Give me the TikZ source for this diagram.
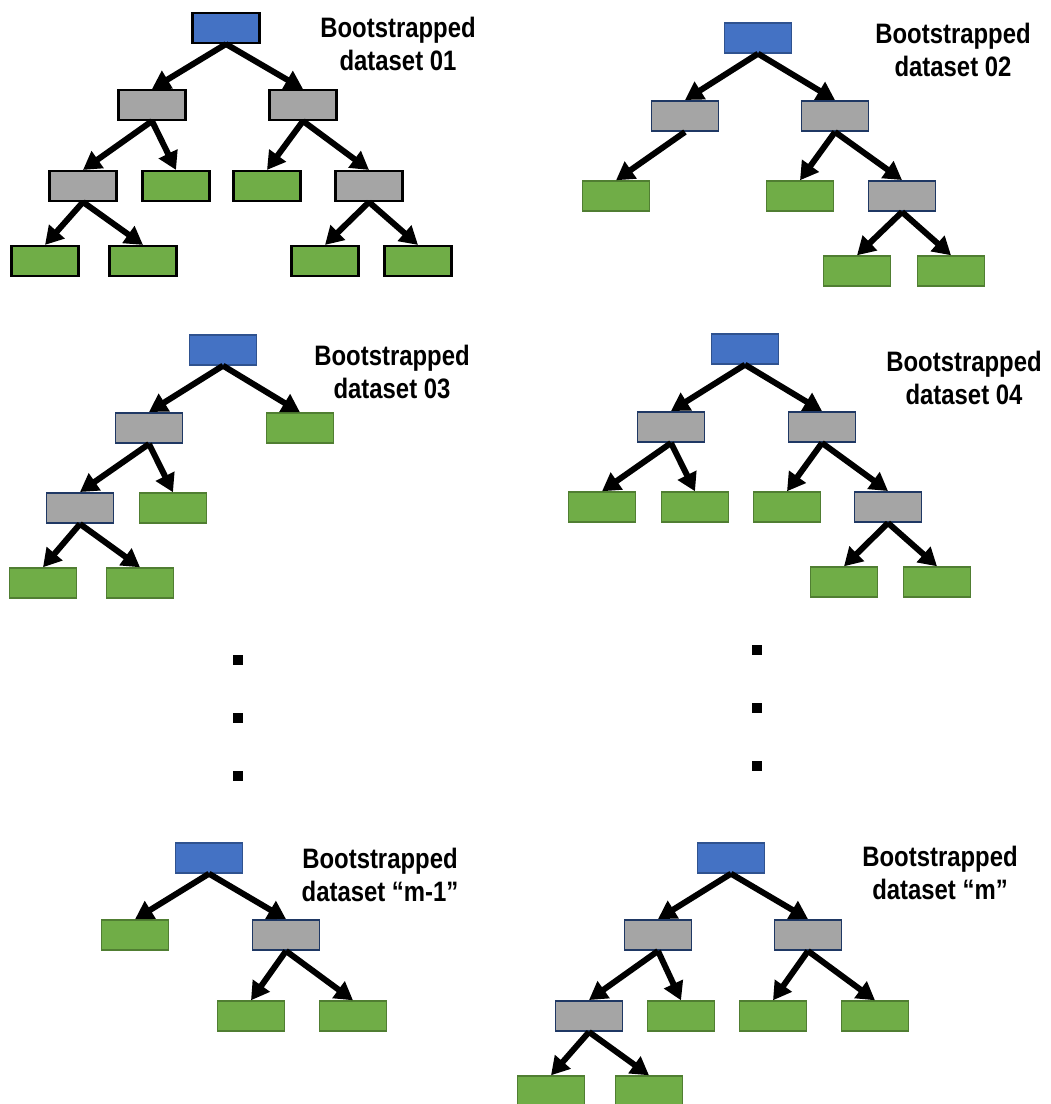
\documentclass[tikz,border=0pt]{standalone}
\usepackage{fontspec}
\setmainfont{Liberation Sans}[FakeStretch=0.85]
\usepackage{tikz}
\usetikzlibrary{arrows.meta}
\definecolor{B}{RGB}{68, 114, 196}
\definecolor{Bd}{RGB}{47, 82, 143}
\definecolor{Gy}{RGB}{165, 165, 165}
\definecolor{Gyd}{RGB}{31, 56, 100}
\definecolor{G}{RGB}{112, 173, 71}
\definecolor{Gd}{RGB}{80, 126, 50}

\tikzset{
  box/.style={rectangle, minimum width=1.34cm, minimum height=0.6cm, inner sep=0pt, line width=0.8pt},
  root/.style={box, fill=B, draw=Bd},
  split/.style={box, fill=Gy, draw=Gyd, line width=1.1pt},
  leaf/.style={box, fill=G, draw=Gd},
  dark/.style={draw=black, line width=1.2pt},
  link/.style={-{Triangle[length=0.36cm, width=0.4cm]}, line width=3.4pt},
  caption/.style={font=\bfseries\fontsize{16}{18.7}\selectfont, align=center},
  dot/.style={fill=black, minimum size=0.2cm, inner sep=0pt}
}

\begin{document}
\begin{tikzpicture}[x=0.02cm, y=-0.02cm]
  \useasboundingbox (0,0) rectangle (1050,1104);

  % dataset 01
  \node[root, dark] (a0) at (226,28) {};
  \node[split, dark] (a1) at (152,105) {};
  \node[split, dark] (a2) at (303,105) {};
  \node[split, dark] (a3) at (83,186) {};
  \node[leaf, dark] (a4) at (176,186) {};
  \node[leaf, dark] (a5) at (267,186) {};
  \node[split, dark] (a6) at (369,186) {};
  \node[leaf, dark] (a7) at (45,261) {};
  \node[leaf, dark] (a8) at (143,261) {};
  \node[leaf, dark] (a9) at (325,261) {};
  \node[leaf, dark] (a10) at (418,261) {};
  \draw[link] (a0.south) -- (a1.north);
  \draw[link] (a0.south) -- (a2.north);
  \draw[link] (a1.south) -- (a3.north);
  \draw[link] (a1.south) -- (a4.north);
  \draw[link] (a2.south) -- (a5.north);
  \draw[link] (a2.south) -- (a6.north);
  \draw[link] (a3.south) -- (a7.north);
  \draw[link] (a3.south) -- (a8.north);
  \draw[link] (a6.south) -- (a9.north);
  \draw[link] (a6.south) -- (a10.north);
  \node[caption] (ta) at (398,44) {Bootstrapped\\dataset 01};

  % dataset 02
  \node[root] (b0) at (758,38) {};
  \node[split] (b1) at (685,116) {};
  \node[split] (b2) at (835,116) {};
  \node[leaf] (b3) at (616,196) {};
  \node[leaf] (b4) at (800,196) {};
  \node[split] (b5) at (902,196) {};
  \node[leaf] (b6) at (857,271) {};
  \node[leaf] (b7) at (951,271) {};
  \draw[link] (b0.south) -- (b1.north);
  \draw[link] (b0.south) -- (b2.north);
  \draw[link] (b1.south) -- (b3.north);
  \draw[link] (b2.south) -- (b4.north);
  \draw[link] (b2.south) -- (b5.north);
  \draw[link] (b5.south) -- (b6.north);
  \draw[link] (b5.south) -- (b7.north);
  \node[caption] (tb) at (953,50) {Bootstrapped\\dataset 02};

  % dataset 03
  \node[root] (c0) at (223,350) {};
  \node[split] (c1) at (149,428) {};
  \node[leaf] (c2) at (300,428) {};
  \node[split] (c3) at (80,508) {};
  \node[leaf] (c4) at (173,508) {};
  \node[leaf] (c5) at (43,583) {};
  \node[leaf] (c6) at (140,583) {};
  \draw[link] (c0.south) -- (c1.north);
  \draw[link] (c0.south) -- (c2.north);
  \draw[link] (c1.south) -- (c3.north);
  \draw[link] (c1.south) -- (c4.north);
  \draw[link] (c3.south) -- (c5.north);
  \draw[link] (c3.south) -- (c6.north);
  \node[caption] (tc) at (392,372) {Bootstrapped\\dataset 03};

  % dataset 04
  \node[root] (d0) at (745,349) {};
  \node[split] (d1) at (671,427) {};
  \node[split] (d2) at (822,427) {};
  \node[leaf] (d3) at (602,507) {};
  \node[leaf] (d4) at (695,507) {};
  \node[leaf] (d5) at (787,507) {};
  \node[split] (d6) at (888,507) {};
  \node[leaf] (d7) at (844,582) {};
  \node[leaf] (d8) at (937,582) {};
  \draw[link] (d0.south) -- (d1.north);
  \draw[link] (d0.south) -- (d2.north);
  \draw[link] (d1.south) -- (d3.north);
  \draw[link] (d1.south) -- (d4.north);
  \draw[link] (d2.south) -- (d5.north);
  \draw[link] (d2.south) -- (d6.north);
  \draw[link] (d6.south) -- (d7.north);
  \draw[link] (d6.south) -- (d8.north);
  \node[caption] (td) at (964,378) {Bootstrapped\\dataset 04};

  % dots between the rows
  \foreach \y [count=\i] in {660,718,776} {
    \node[dot] (l\i) at (238,\y) {};
    \node[dot] (r\i) at (757,\y-10) {};
  }

  % dataset m-1
  \node[root] (e0) at (209,858) {};
  \node[leaf] (e1) at (135,935) {};
  \node[split] (e2) at (286,935) {};
  \node[leaf] (e3) at (251,1016) {};
  \node[leaf] (e4) at (353,1016) {};
  \draw[link] (e0.south) -- (e1.north);
  \draw[link] (e0.south) -- (e2.north);
  \draw[link] (e2.south) -- (e3.north);
  \draw[link] (e2.south) -- (e4.north);
  \node[caption] (te) at (380,875) {Bootstrapped\\dataset “m-1”};

  % dataset m
  \node[root] (f0) at (731,858) {};
  \node[split] (f1) at (658,935) {};
  \node[split] (f2) at (808,935) {};
  \node[split] (f3) at (589,1016) {};
  \node[leaf] (f4) at (681,1016) {};
  \node[leaf] (f5) at (773,1016) {};
  \node[leaf] (f6) at (875,1016) {};
  \node[leaf] (f7) at (551,1091) {};
  \node[leaf] (f8) at (649,1091) {};
  \draw[link] (f0.south) -- (f1.north);
  \draw[link] (f0.south) -- (f2.north);
  \draw[link] (f1.south) -- (f3.north);
  \draw[link] (f1.south) -- (f4.north);
  \draw[link] (f2.south) -- (f5.north);
  \draw[link] (f2.south) -- (f6.north);
  \draw[link] (f3.south) -- (f7.north);
  \draw[link] (f3.south) -- (f8.north);
  \node[caption] (tf) at (940,873) {Bootstrapped\\dataset “m”};
\end{tikzpicture}
\end{document}
